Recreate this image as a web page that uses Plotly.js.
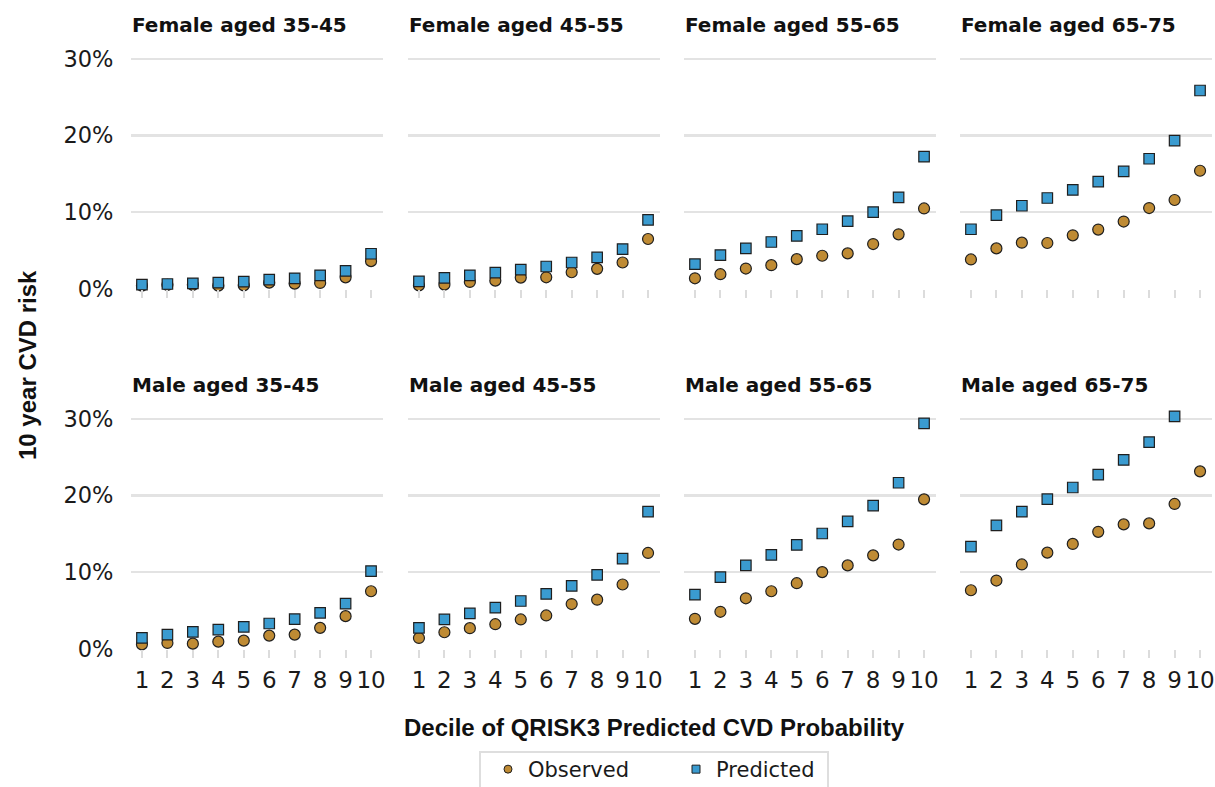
<!DOCTYPE html>
<html>
<head>
<meta charset="utf-8">
<script src="https://cdn.plot.ly/plotly-3.0.1.min.js"></script>
<style>html,body{margin:0;padding:0;background:#fff;}#chart{width:1215px;height:787px;}</style>
</head>
<body>
<div id="chart"></div>
<script>
// ---- data ----
const deciles = [1, 2, 3, 4, 5, 6, 7, 8, 9, 10];
const decileLabels = ['1', '2', '3', '4', '5', '6', '7', '8', '9', '10'];
const panelTitles = ['Female aged 35-45', 'Female aged 45-55', 'Female aged 55-65', 'Female aged 65-75',
                     'Male aged 35-45', 'Male aged 45-55', 'Male aged 55-65', 'Male aged 65-75'];
const yTickVals = [0, 0.1, 0.2, 0.3];
const yTickText = ['0%', '10%', '20%', '30%'];

const obsF3545 = [0.004, 0.005, 0.005, 0.004, 0.0044, 0.0079, 0.0066, 0.0075, 0.0148, 0.036];
const predF3545 = [0.0053, 0.0061, 0.0070, 0.0079, 0.0092, 0.0118, 0.0136, 0.0175, 0.0232, 0.0456];
const obsF4555 = [0.0044, 0.0053, 0.0088, 0.0105, 0.0145, 0.0149, 0.0215, 0.0259, 0.0342, 0.0649];
const predF4555 = [0.0096, 0.0140, 0.0175, 0.0210, 0.0250, 0.0290, 0.0342, 0.0408, 0.0518, 0.0899];
const obsF5565 = [0.0136, 0.0189, 0.0263, 0.0307, 0.0386, 0.0430, 0.0461, 0.0583, 0.0710, 0.1048];
const predF5565 = [0.0320, 0.0439, 0.0526, 0.0610, 0.0689, 0.0776, 0.0882, 0.1000, 0.1193, 0.1724];
const obsF6575 = [0.0382, 0.0526, 0.0601, 0.0597, 0.0697, 0.0772, 0.0877, 0.1053, 0.1158, 0.1540];
const predF6575 = [0.0776, 0.0961, 0.1083, 0.1184, 0.1290, 0.1399, 0.1531, 0.1697, 0.1934, 0.2588];
const obsM3545 = [0.0057, 0.0075, 0.0066, 0.0092, 0.0105, 0.0171, 0.0184, 0.0272, 0.0425, 0.0750];
const predM3545 = [0.0140, 0.0184, 0.0219, 0.0250, 0.0285, 0.0329, 0.0386, 0.0469, 0.0588, 0.1013];
const obsM4555 = [0.0140, 0.0215, 0.0268, 0.0320, 0.0382, 0.0434, 0.0583, 0.0640, 0.0838, 0.1250];
const predM4555 = [0.0272, 0.0382, 0.0461, 0.0535, 0.0623, 0.0715, 0.0820, 0.0965, 0.1175, 0.1790];
const obsM5565 = [0.0390, 0.0482, 0.0658, 0.0750, 0.0855, 0.1000, 0.1088, 0.1219, 0.1360, 0.1950];
const predM5565 = [0.0706, 0.0934, 0.1088, 0.1224, 0.1355, 0.1504, 0.1662, 0.1868, 0.2167, 0.2943];
const obsM6575 = [0.0763, 0.0890, 0.1100, 0.1254, 0.1368, 0.1526, 0.1623, 0.1636, 0.1890, 0.2316];
const predM6575 = [0.1333, 0.1610, 0.1790, 0.1952, 0.2105, 0.2272, 0.2465, 0.2697, 0.3035, null];

const observedSets = [obsF3545, obsF4555, obsF5565, obsF6575, obsM3545, obsM4555, obsM5565, obsM6575];
const predictedSets = [predF3545, predF4555, predF5565, predF6575, predM3545, predM4555, predM5565, predM6575];

// ---- styling / layout ----
const W = 1215, H = 787;
const obsColor = '#BF8B34';
const predColor = '#3A9BD0';
const edge = '#1f1f1f';
const colLeft = [130.5, 407.5, 683.5, 959.5];
const colWidth = 252;
const rowBottom = [289, 649];
const rowHeight = 237.7;

const traces = [];
const layout = {
  width: W, height: H,
  margin: {l: 0, r: 0, t: 0, b: 0, autoexpand: false},
  paper_bgcolor: '#ffffff', plot_bgcolor: '#ffffff',
  font: {family: 'DejaVu Sans', size: 22, color: '#1a1a1a'},
  showlegend: true,
  legend: {
    orientation: 'h', x: 488 / W, xanchor: 'left', y: (H - 749) / H, yanchor: 'top',
    borderwidth: 0, bgcolor: 'rgba(0,0,0,0)',
    font: {family: 'DejaVu Sans', size: 21, color: '#1a1a1a'},
    entrywidth: 143, entrywidthmode: 'pixels'
  },
  shapes: [{
    type: 'rect', xref: 'paper', yref: 'paper',
    x0: 480 / W, x1: 828 / W, y0: -0.02, y1: (H - 752) / H,
    line: {color: '#dedede', width: 2}, fillcolor: 'rgba(0,0,0,0)', layer: 'below'
  }],
  annotations: [],
  hovermode: false
};

for (let i = 0; i < 8; i++) {
  const row = Math.floor(i / 4), col = i % 4;
  const n = i + 1;
  const xa = 'xaxis' + (n === 1 ? '' : n), ya = 'yaxis' + (n === 1 ? '' : n);
  const xr = 'x' + (n === 1 ? '' : n), yr = 'y' + (n === 1 ? '' : n);
  const x0 = colLeft[col] / W, x1 = (colLeft[col] + colWidth) / W;
  const y0 = (H - rowBottom[row]) / H, y1 = (H - rowBottom[row] + rowHeight) / H;
  layout[xa] = {
    domain: [x0, x1], anchor: yr, range: [0.55, 10.45],
    tickmode: 'array', tickvals: deciles, ticktext: decileLabels,
    showticklabels: row === 1, ticks: 'outside', ticklen: 8, tickwidth: 2, tickcolor: '#dcdcdc',
    ticklabelstandoff: 2,
    showgrid: false, zeroline: false, showline: false, fixedrange: true,
    tickfont: {family: 'DejaVu Sans', size: 23, color: '#1a1a1a'}
  };
  layout[ya] = {
    domain: [y0, y1], anchor: xr, range: [-0.0004, 0.31],
    tickmode: 'array', tickvals: yTickVals, ticktext: yTickText,
    showticklabels: col === 0, ticks: '', ticklabelstandoff: 16,
    showgrid: true, gridcolor: '#e3e3e3', gridwidth: 2.5,
    zeroline: false, showline: false, fixedrange: true,
    tickfont: {family: 'DejaVu Sans', size: 22.5, color: '#1a1a1a'}
  };
  traces.push({
    type: 'scatter', mode: 'markers', x: deciles, y: observedSets[i], xaxis: xr, yaxis: yr,
    marker: {symbol: 'circle', size: 11, color: obsColor, line: {color: edge, width: 1.2}},
    showlegend: false, cliponaxis: false, hoverinfo: 'skip'
  });
  traces.push({
    type: 'scatter', mode: 'markers', x: deciles, y: predictedSets[i], xaxis: xr, yaxis: yr,
    marker: {symbol: 'square', size: 10.5, color: predColor, line: {color: edge, width: 1.2}},
    showlegend: false, cliponaxis: false, hoverinfo: 'skip'
  });
  layout.annotations.push({
    text: '<b>' + panelTitles[i] + '</b>', xref: 'paper', yref: 'paper',
    x: (colLeft[col] - 1) / W, y: (H - (row === 0 ? 25 : 385)) / H,
    xanchor: 'left', yanchor: 'middle', showarrow: false,
    font: {family: 'DejaVu Sans', size: 20, color: '#111111'}
  });
}

// legend-only entries
traces.push({type: 'scatter', mode: 'markers', x: [null], y: [null], name: 'Observed',
  marker: {symbol: 'circle', size: 8, color: obsColor, line: {color: edge, width: 1}}, showlegend: true});
traces.push({type: 'scatter', mode: 'markers', x: [null], y: [null], name: 'Predicted',
  marker: {symbol: 'square', size: 8, color: predColor, line: {color: edge, width: 1}}, showlegend: true});

// axis titles
layout.annotations.push({
  text: '<b>Decile of QRISK3 Predicted CVD Probability</b>', xref: 'paper', yref: 'paper',
  x: 654 / W, y: (H - 727) / H, xanchor: 'center', yanchor: 'middle', showarrow: false,
  font: {family: 'Liberation Sans', size: 24, color: '#111111'}
});
layout.annotations.push({
  text: '<b>10 year CVD risk</b>', xref: 'paper', yref: 'paper', textangle: -90,
  x: 27 / W, y: (H - 365) / H, xanchor: 'center', yanchor: 'middle', showarrow: false,
  font: {family: 'Liberation Sans', size: 24, color: '#111111'}
});

Plotly.newPlot('chart', traces, layout, {staticPlot: true, displayModeBar: false});
</script>
</body>
</html>
